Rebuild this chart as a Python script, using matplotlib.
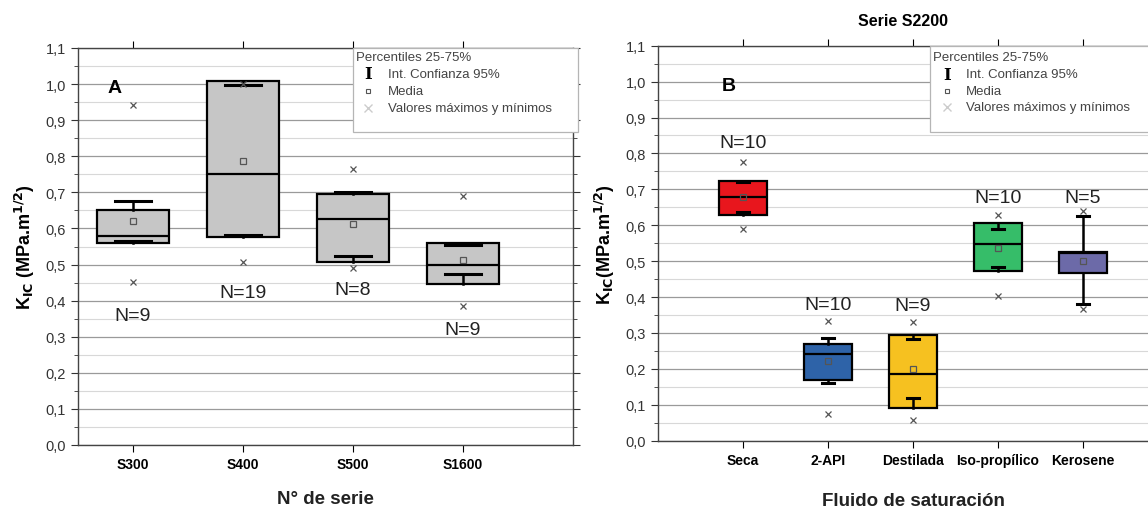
import matplotlib
matplotlib.use("Agg")
import matplotlib.pyplot as plt
from matplotlib.ticker import MultipleLocator, FuncFormatter
from matplotlib.patches import Rectangle

plt.rcParams['font.family'] = ['Liberation Sans', 'DejaVu Sans']

# ---- panel A data
cats_a = ["S300", "S400", "S500", "S1600"]
q1_a = [0.561, 0.575, 0.508, 0.446]
q3_a = [0.650, 1.009, 0.695, 0.561]
med_a = [0.580, 0.750, 0.626, 0.498]
mean_a = [0.620, 0.787, 0.612, 0.512]
ci_lo_a = [0.564, 0.582, 0.524, 0.473]
ci_hi_a = [0.677, 0.998, 0.702, 0.554]
max_a = [0.942, 1.000, 0.766, 0.690]
min_a = [0.453, 0.508, 0.490, 0.385]
n_a = [9, 19, 8, 9]
n_label_y_a = [0.358, 0.422, 0.432, 0.320]
colors_a = ["#c6c6c6"] * 4

# ---- panel B data
cats_b = ["Seca", "2-API", "Destilada", "Iso-propílico", "Kerosene"]
q1_b = [0.629, 0.170, 0.090, 0.472, 0.466]
q3_b = [0.722, 0.269, 0.295, 0.605, 0.526]
med_b = [0.678, 0.241, 0.186, 0.548, 0.524]
mean_b = [0.678, 0.223, 0.200, 0.536, 0.501]
ci_lo_b = [0.636, 0.162, 0.118, 0.483, 0.381]
ci_hi_b = [0.720, 0.285, 0.283, 0.590, 0.625]
max_b = [0.775, 0.332, 0.331, 0.629, 0.639]
min_b = [0.590, 0.074, 0.058, 0.404, 0.367]
n_b = [10, 10, 9, 10, 5]
n_label_y_b = [0.830, 0.380, 0.376, 0.678, 0.678]
colors_b = ["#e8161d", "#2e63a8", "#f6c120", "#36bd69", "#6c6aa8"]

legend_labels = ["Percentiles 25-75%", "Int. Confianza 95%", "Media",
                 "Valores máximos y mínimos"]


def comma(v, pos):
    return f"{v:.1f}".replace(".", ",")


def draw_panel(ax, cats, q1, q3, med, mean, lo, hi, mx, mn, n, ny, colors,
               width, capw, xlim, leg):
    pos = list(range(1, len(cats) + 1))
    stats = []
    for i in range(len(cats)):
        stats.append(dict(med=med[i], q1=q1[i], q3=q3[i], whislo=lo[i],
                          whishi=hi[i], mean=mean[i], fliers=[]))
    bp = ax.bxp(stats, positions=pos, widths=width, patch_artist=True,
                showmeans=True, capwidths=capw,
                boxprops=dict(edgecolor="black", linewidth=1.6),
                medianprops=dict(color="black", linewidth=1.6),
                whiskerprops=dict(color="black", linewidth=1.8),
                capprops=dict(color="black", linewidth=2.2),
                meanprops=dict(marker="s", markersize=4.5, markerfacecolor="none",
                               markeredgecolor="#555555", markeredgewidth=0.9))
    for b, c in zip(bp["boxes"], colors):
        b.set_facecolor(c)
    ax.plot(pos, mx, "x", color="#555555", markersize=5, mew=0.9, zorder=3)
    ax.plot(pos, mn, "x", color="#555555", markersize=5, mew=0.9, zorder=3)
    for p, k, y in zip(pos, n, ny):
        ax.text(p, y, f"N={k}", ha="center", va="center", fontsize=14,
                color="#222222")

    ax.set_xlim(*xlim)
    ax.set_ylim(0, 1.1)
    ax.set_xticks(pos)
    ax.set_xticklabels(cats, fontweight="bold", fontsize=10)
    ax.yaxis.set_major_locator(MultipleLocator(0.1))
    ax.yaxis.set_minor_locator(MultipleLocator(0.05))
    ax.yaxis.set_major_formatter(FuncFormatter(comma))
    ax.tick_params(axis="y", labelsize=10.5, colors="#333333", direction="out",
                   right=True, which="both")
    ax.tick_params(axis="y", which="major", length=5)
    ax.tick_params(axis="y", which="minor", length=3)
    ax.tick_params(axis="x", top=True, length=5)
    ax.grid(True, axis="y", which="major", color="#9a9a9a", lw=0.9)
    ax.grid(True, axis="y", which="minor", color="#d8d8d8", lw=0.8)
    ax.set_axisbelow(True)
    for s in ax.spines.values():
        s.set_color("#444444")
        s.set_linewidth(1.0)

    # legend block
    x0, y0, xs, xl, rows = leg
    ax.add_patch(Rectangle((x0, y0), 1 - x0 + 0.01, 1 - y0, transform=ax.transAxes,
                           facecolor="white", edgecolor="#b5b5b5", lw=0.9,
                           zorder=4, clip_on=False))
    ax.text(x0 + 0.006, rows[0], legend_labels[0], transform=ax.transAxes,
            fontsize=9.5, color="#444444", va="center", zorder=5)
    for lab, ry in zip(legend_labels[1:], rows[1:]):
        ax.text(xl, ry, lab, transform=ax.transAxes, fontsize=9.5,
                color="#444444", va="center", zorder=5, clip_on=False)
    ax.text(xs, rows[1], "I", transform=ax.transAxes, fontsize=12,
            family="DejaVu Serif", fontweight="bold", ha="center", va="center",
            zorder=5)
    ax.plot([xs], [rows[2]], "s", transform=ax.transAxes, markersize=3,
            mfc="none", mec="#555555", mew=0.8, zorder=5, clip_on=False)
    ax.plot([xs], [rows[3]], "x", transform=ax.transAxes, markersize=6,
            color="#cccccc", mew=1.0, zorder=5, clip_on=False)


fig = plt.figure(figsize=(11.48, 5.10), dpi=100)
W, H = 1148, 510
axA = fig.add_axes([78 / W, (H - 446) / H, (573 - 78) / W, (446 - 49) / H])
axB = fig.add_axes([658 / W, (H - 441.7) / H, (1168 - 658) / W, (441.7 - 46.7) / H])

draw_panel(axA, cats_a, q1_a, q3_a, med_a, mean_a, ci_lo_a, ci_hi_a, max_a, min_a,
           n_a, n_label_y_a, colors_a, 0.65, 0.33, (0.5, 5.0),
           (0.556, 0.788, 0.586, 0.626, [0.977, 0.935, 0.892, 0.849]))
draw_panel(axB, cats_b, q1_b, q3_b, med_b, mean_b, ci_lo_b, ci_hi_b, max_b, min_b,
           n_b, n_label_y_b, colors_b, 0.57, 0.13, (0.0, 6.0),
           (0.533, 0.781, 0.567, 0.604, [0.971, 0.928, 0.885, 0.844]))

axA.set_xlabel("N° de serie", fontsize=13.5, fontweight="bold", labelpad=14,
               color="#222222")
axA.set_ylabel(r"K$_{\mathbf{IC}}$ (MPa.m$^{\mathbf{1/2}}$)", fontsize=13,
               fontweight="bold", labelpad=6)
axB.set_xlabel("Fluido de saturación", fontsize=13.5, fontweight="bold",
               labelpad=18, color="#222222")
axB.set_ylabel(r"K$_{\mathbf{IC}}$(MPa.m$^{\mathbf{1/2}}$)", fontsize=13,
               fontweight="bold", labelpad=6)
fig.text(903 / W, (H - 22) / H, "Serie S2200", ha="center", va="center",
         fontsize=11.5, fontweight="bold")

axA.text(0.06, 0.9, "A", transform=axA.transAxes, fontsize=14,
         fontweight="bold", va="center")
axB.text(0.125, 0.9, "B", transform=axB.transAxes, fontsize=14,
         fontweight="bold", va="center")

fig.savefig("out.png", dpi=100)
